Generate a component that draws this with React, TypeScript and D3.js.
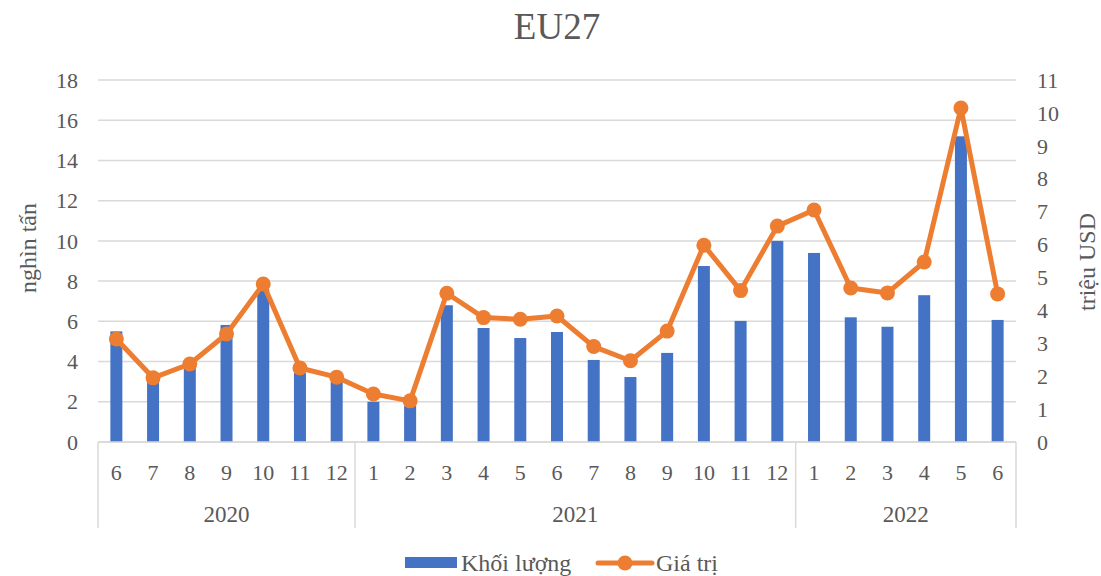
import React from "react";
import * as d3 from "d3";

const years = ["2020", "2021", "2022"];
const months = [
  "6", "7", "8", "9", "10", "11", "12",
  "1", "2", "3", "4", "5", "6", "7", "8", "9", "10", "11", "12",
  "1", "2", "3", "4", "5", "6",
];
const yearOf = [
  0, 0, 0, 0, 0, 0, 0,
  1, 1, 1, 1, 1, 1, 1, 1, 1, 1, 1, 1,
  2, 2, 2, 2, 2, 2,
];
const volume = [
  5.5, 3.1, 3.7, 5.82, 7.6, 3.43, 3.0,
  2.0, 1.8, 6.8, 5.67, 5.17, 5.47, 4.08, 3.23, 4.43, 8.75, 6.02, 10.0,
  9.4, 6.2, 5.73, 7.3, 15.2, 6.07,
];
const value = [
  3.13, 1.95, 2.37, 3.28, 4.8, 2.25, 1.97,
  1.46, 1.25, 4.52, 3.78, 3.73, 3.83, 2.9, 2.47, 3.37, 5.98, 4.6, 6.56,
  7.05, 4.68, 4.53, 5.47, 10.15, 4.5,
];
const leftTicks = [0, 2, 4, 6, 8, 10, 12, 14, 16, 18];
const rightTicks = [0, 1, 2, 3, 4, 5, 6, 7, 8, 9, 10, 11];

const W = 1101;
const H = 576;
const left = 98;
const right = 1016;
const top = 80;
const bottom = 442;
const axisGray = "#595959";
const gridColor = "#D9D9D9";
const font = "'Liberation Serif', 'Times New Roman', serif";

export default function App() {
  const idx = months.map((_, i) => String(i));
  const x = d3.scaleBand<string>().domain(idx).range([left, right]).paddingInner(0).paddingOuter(0);
  const yL = d3.scaleLinear().domain([0, 18]).range([bottom, top]);
  const yR = d3.scaleLinear().domain([0, 11]).range([bottom, top]);
  const bw = 12;
  const cx = (i: number) => (x(String(i)) as number) + x.bandwidth() / 2;

  const line = d3
    .line<number>()
    .x((_, i) => cx(i))
    .y((d) => yR(d));

  const groups = years.map((y, g) => {
    const members = yearOf.map((v, i) => (v === g ? i : -1)).filter((i) => i >= 0);
    const x0 = x(String(members[0])) as number;
    const x1 = (x(String(members[members.length - 1])) as number) + x.bandwidth();
    return { label: y, x0, x1 };
  });
  const sepBottom = 528;

  return (
    <svg
      width={W}
      height={H}
      style={{ position: "absolute", left: 0, top: 0, background: "#fff" }}
      fontFamily={font}
    >
      <text x={557} y={39} textAnchor="middle" fontSize={37} fill={axisGray}>
        EU27
      </text>

      {leftTicks.map((t) => (
        <line key={"g" + t} x1={left} x2={right} y1={yL(t)} y2={yL(t)} stroke={gridColor} strokeWidth={1.5} />
      ))}

      {leftTicks.map((t) => (
        <text key={"l" + t} x={78} y={yL(t)} dy="0.35em" textAnchor="end" fontSize={22} fill={axisGray}>
          {t}
        </text>
      ))}
      {rightTicks.map((t) => (
        <text key={"r" + t} x={1037} y={yR(t)} dy="0.35em" textAnchor="start" fontSize={22} fill={axisGray}>
          {t}
        </text>
      ))}

      <text
        transform={`translate(36,248) rotate(-90)`}
        textAnchor="middle"
        fontSize={24}
        fill={axisGray}
      >
        nghìn tấn
      </text>
      <text
        transform={`translate(1095,262) rotate(-90)`}
        textAnchor="middle"
        fontSize={24}
        fill={axisGray}
      >
        triệu USD
      </text>

      {volume.map((v, i) => (
        <rect key={"b" + i} x={cx(i) - bw / 2} y={yL(v)} width={bw} height={yL(0) - yL(v)} fill="#4472C4" />
      ))}

      <line x1={left} x2={right} y1={bottom} y2={bottom} stroke={gridColor} strokeWidth={1.5} />
      {[groups[0].x0, ...groups.map((g) => g.x1)].map((gx, i) => (
        <line key={"s" + i} x1={gx} x2={gx} y1={bottom} y2={sepBottom} stroke={gridColor} strokeWidth={1.5} />
      ))}

      {months.map((m, i) => (
        <text key={"m" + i} x={cx(i)} y={480} textAnchor="middle" fontSize={22} fill={axisGray}>
          {m}
        </text>
      ))}
      {groups.map((g) => (
        <text key={g.label} x={(g.x0 + g.x1) / 2} y={522} textAnchor="middle" fontSize={23} fill={axisGray}>
          {g.label}
        </text>
      ))}

      <path d={line(value) || ""} fill="none" stroke="#ED7D31" strokeWidth={5} strokeLinejoin="round" strokeLinecap="round" />
      {value.map((v, i) => (
        <circle key={"c" + i} cx={cx(i)} cy={yR(v)} r={7.5} fill="#ED7D31" />
      ))}

      <rect x={405} y={557} width={52} height={11} fill="#4472C4" />
      <text x={461} y={571} fontSize={24} fill={axisGray}>
        Khối lượng
      </text>
      <line x1={598} x2={652} y1={563} y2={563} stroke="#ED7D31" strokeWidth={5} strokeLinecap="round" />
      <circle cx={625} cy={563} r={7.5} fill="#ED7D31" />
      <text x={656} y={571} fontSize={24} fill={axisGray}>
        Giá trị
      </text>
    </svg>
  );
}
